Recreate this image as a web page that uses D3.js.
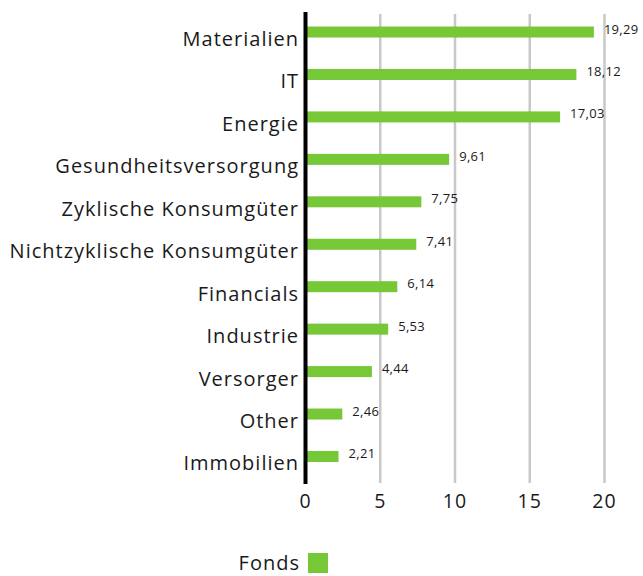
<!DOCTYPE html>
<html><head><meta charset="utf-8">
<script src="https://cdn.jsdelivr.net/npm/d3@7"></script>
<style>body{margin:0;background:#fff}svg{display:block}</style>
</head><body>
<svg id="c" width="643" height="576"></svg>
<script>
const categories = ["Materialien","IT","Energie","Gesundheitsversorgung","Zyklische Konsumgüter","Nichtzyklische Konsumgüter","Financials","Industrie","Versorger","Other","Immobilien"];
const fonds = [19.29,18.12,17.03,9.61,7.75,7.41,6.14,5.53,4.44,2.46,2.21];
const xTicks = [0,5,10,15,20];
const seriesName = "Fonds";

const font = "'Open Sans', sans-serif";
const svg = d3.select("#c");
const x = d3.scaleLinear().domain([0,20]).range([305.5,604.5]);
const y = d3.scaleBand().domain(categories).range([10.8,477.7]);
const barH = 11;

// grid
svg.append("g").selectAll("line").data(xTicks.filter(d=>d>0)).join("line")
  .attr("x1",d=>x(d)).attr("x2",d=>x(d)).attr("y1",14).attr("y2",483)
  .attr("stroke","#c8c8c8").attr("stroke-width",2.5);

// bars
svg.append("g").selectAll("rect").data(fonds).join("rect")
  .attr("x",x(0)).attr("y",(d,i)=>y(categories[i])+y.bandwidth()/2-barH/2)
  .attr("width",d=>x(d)-x(0)).attr("height",barH).attr("fill","#76c837");

// value labels
svg.append("g").selectAll("text").data(fonds).join("text")
  .attr("x",d=>x(d)+10).attr("y",(d,i)=>y(categories[i])+y.bandwidth()/2-2)
  .attr("dominant-baseline","middle")
  .style("font-family",font).style("font-size","13px").style("letter-spacing","0.3px").attr("fill","#1a1a1a")
  .text(d=>d.toFixed(2).replace(".",","));

// category labels
svg.append("g").selectAll("text").data(categories).join("text")
  .attr("x",299).attr("y",d=>y(d)+y.bandwidth()/2+14)
  .attr("text-anchor","end")
  .style("font-family",font).style("font-size","20px").style("letter-spacing","1px").attr("fill","#1a1a1a")
  .text(d=>d);

// axis line
svg.append("line").attr("x1",x(0)).attr("x2",x(0)).attr("y1",12).attr("y2",484)
  .attr("stroke","#000").attr("stroke-width",4);

// x tick labels
svg.append("g").selectAll("text").data(xTicks).join("text")
  .attr("x",d=>x(d)).attr("y",508).attr("text-anchor","middle")
  .style("font-family",font).style("font-size","19.5px").style("letter-spacing","1px").attr("fill","#1a1a1a")
  .text(d=>d);

// legend
svg.append("text").attr("x",300).attr("y",570).attr("text-anchor","end")
  .style("font-family",font).style("font-size","20px").style("letter-spacing","1px").attr("fill","#1a1a1a").text(seriesName);
svg.append("rect").attr("x",308).attr("y",553).attr("width",20).attr("height",20).attr("fill","#76c837");
</script>
</body></html>
